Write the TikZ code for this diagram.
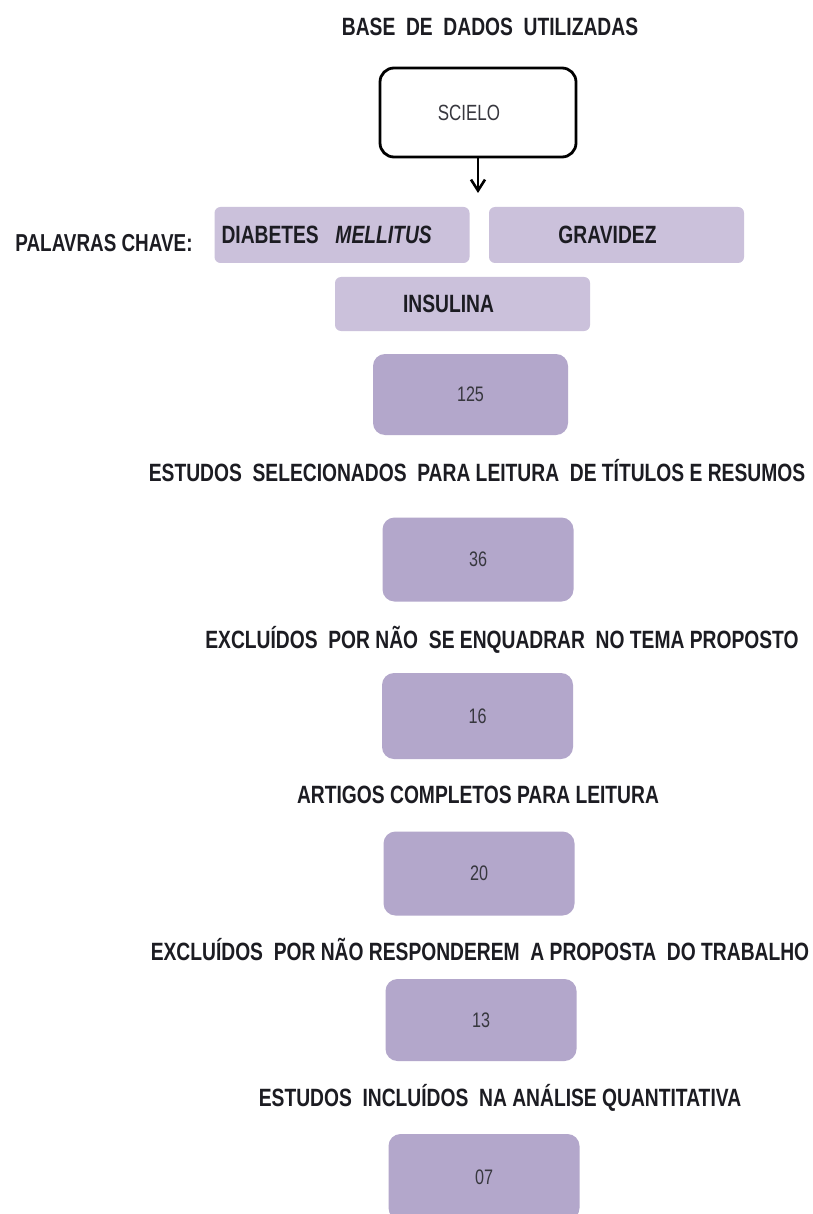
\documentclass[tikz,border=0pt]{standalone}
\usepackage{fontspec}
\setmainfont{Liberation Sans}[FakeStretch=0.77]
\usetikzlibrary{arrows.meta}
\definecolor{kwfill}{RGB}{203,193,219}
\definecolor{numfill}{RGB}{179,167,203}
\definecolor{txt}{RGB}{28,28,34}
\definecolor{numtxt}{RGB}{55,55,62}
\begin{document}
\begin{tikzpicture}[x=1pt,y=-1pt,
  lbl/.style={font=\fontsize{25}{29}\selectfont\bfseries, text=txt, inner sep=0pt},
  kw/.style={fill=kwfill, rounded corners=6pt, font=\fontsize{25}{29}\selectfont\bfseries,
    text=txt, minimum width=255pt, minimum height=56pt, inner sep=0pt},
  num/.style={fill=numfill, rounded corners=12pt, font=\fontsize{21}{25}\selectfont,
    text=numtxt, minimum width=191pt, minimum height=84pt, inner sep=0pt},
  db/.style={draw=black, line width=2.8pt, rounded corners=14pt, fill=white,
    font=\fontsize{22}{26}\selectfont, text=numtxt, minimum width=196pt, minimum height=89pt, inner sep=0pt},
  conn/.style={line width=2.6pt, -{Straight Barb[length=11pt,width=14pt]}}
]
\useasboundingbox (0,0) rectangle (812,1214);
\fill[white] (0,0) rectangle (812,1214);

\node[lbl] (title) at (490,27) {BASE~ DE~ DADOS~ UTILIZADAS};
\node[db] (scielo) at (478,112.5) {\hspace*{-18pt}SCIELO};
\coordinate (arrend) at (478,193);
\draw[conn] (scielo.south) -- (arrend);

\node[lbl, font=\fontsize{24.5}{28}\selectfont\bfseries] (pal) at (104,243) {PALAVRAS CHAVE:};
\node[kw, text width=241pt, align=left] (diab) at (342,235) {DIABETES~ \textit{MELLITUS}};
\node[kw, text width=239pt, align=center] (grav) at (616.5,235) {\hspace*{-18pt}GRAVIDEZ};
\node[kw, minimum height=54pt, text width=239pt, align=center] (ins) at (462.5,304) {\hspace*{-28pt}INSULINA};

\node[num, minimum width=195pt, minimum height=81pt] (n125) at (470.5,394.5) {125};
\node[lbl] (t1) at (477,471) {ESTUDOS~ SELECIONADOS~ PARA LEITURA~ DE TÍTULOS E RESUMOS};
\node[num] (n36) at (478,559.5) {36};
\node[lbl] (t2) at (502,640) {EXCLUÍDOS~ POR NÃO~ SE ENQUADRAR~ NO TEMA PROPOSTO};
\node[num, minimum height=86pt] (n16) at (477.5,716) {16};
\node[lbl] (t3) at (478,795) {ARTIGOS COMPLETOS PARA LEITURA};
\node[num] (n20) at (479,873.5) {20};
\node[lbl] (t4) at (480,949) {EXCLUÍDOS~ POR NÃO RESPONDEREM~ A PROPOSTA~ DO TRABALHO};
\node[num, minimum height=82pt] (n13) at (481,1020) {13};
\node[lbl] (t5) at (500,1098) {ESTUDOS~ INCLUÍDOS~ NA ANÁLISE QUANTITATIVA};
\node[num, minimum height=86pt] (n07) at (484,1177) {07};
\end{tikzpicture}
\end{document}
